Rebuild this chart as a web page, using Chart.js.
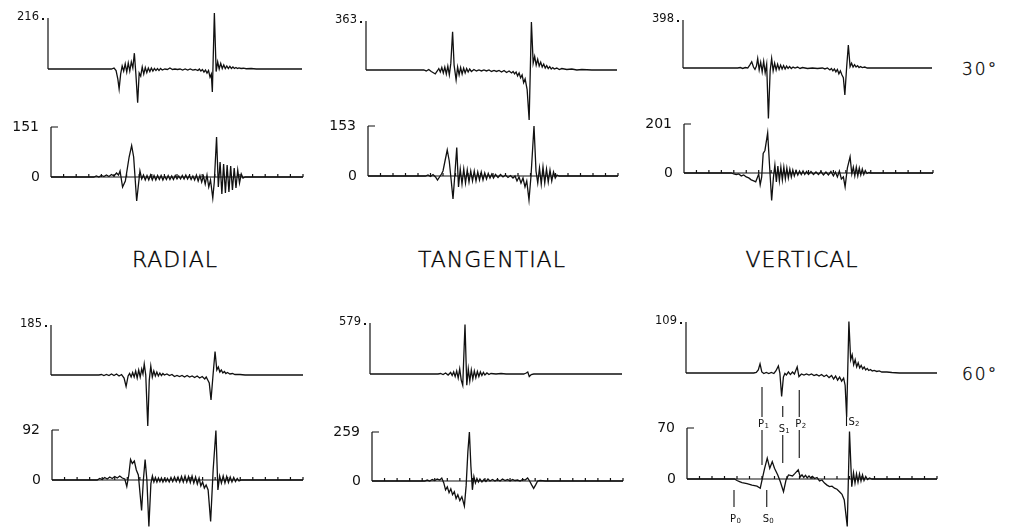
<!DOCTYPE html>
<html>
<head>
<meta charset="utf-8">
<script src="https://cdn.jsdelivr.net/npm/chart.js@4.4.1/dist/chart.umd.min.js"></script>
<style>
  body { margin: 0; background: #fff; width: 1009px; height: 530px; overflow: hidden; position: relative; font-family: "DejaVu Sans", sans-serif; color: #000; }
  canvas { position: absolute; }
  .title { position: absolute; font-size: 22px; line-height: 22px; font-weight: 200; letter-spacing: 1px; transform: translateX(-50%); white-space: nowrap; -webkit-text-stroke: 0.4px #000; }
  .angle { position: absolute; font-size: 17px; line-height: 17px; font-weight: 200; letter-spacing: 2px; -webkit-text-stroke: 0.3px #000; }
</style>
</head>
<body>
<div class="title" style="left:175px; top:249px">RADIAL</div>
<div class="title" style="left:492px; top:249px">TANGENTIAL</div>
<div class="title" style="left:802px; top:249px">VERTICAL</div>
<div class="angle" style="left:962px; top:61px">30°</div>
<div class="angle" style="left:962px; top:366px">60°</div>
<script>
// time axis runs 0..100, amplitudes are % of the peak value printed on each trace
const tickTimes = [5, 10, 15, 20, 25, 30, 35, 40, 45, 50, 55, 60, 65, 70, 75, 80, 85, 90, 95, 100];
const topLabels = ['216', '363', '398', '185', '579', '109'];
const bottomLabels = ['151', '153', '201', '92', '259', '70'];

// phase picks on the 60 deg vertical record
const phaseNames = ['P', 'S', 'P', 'S', 'P', 'S'];
const phaseSubs = ['1', '1', '2', '2', '0', '0'];
const phaseTimes = [30, 38.3, 44.9, 63.8, 18.8, 31.9];

// 30 deg, displacement-like traces (top) and velocity-like traces (bottom)
const radial30Top = [[0,0],[25,0],[26,2],[26.8,-3],[27.5,-20],[28,-39],[28.6,-10],[29.2,6],[29.8,-4],[30.4,10],[31,-6],[31.6,12],[32.2,-4],[32.8,14],[33.4,2],[34,31],[34.6,-10],[35.3,-66],[35.9,-8],[36.5,-14],[37.1,4],[37.7,-10],[38.3,3],[38.9,-7],[39.5,2],[40.1,-5],[40.7,2],[41.3,-4],[41.9,1],[42.5,-3],[43.1,1],[43.7,-3],[44.3,1],[45,-2],[46,0],[47,-1],[48,2],[49,-1],[50,0],[51,-1],[52,0],[53,-2],[54,0],[55,-2],[56,0],[57,-2],[58,-1],[59,-3],[59.6,0],[60.2,-4],[60.8,-1],[61.4,-6],[62,-2],[62.6,-8],[63.2,-3],[63.8,-16],[64.3,-10],[64.7,-45],[65.5,110],[66.2,-5],[66.8,14],[67.4,0],[68,11],[68.6,1],[69.2,8],[69.8,1],[70.4,6],[71,1],[71.6,5],[72.2,1],[72.8,4],[73.4,1],[74,3],[74.6,1],[75.2,2],[76,1],[77,1.5],[78,0.5],[80,1],[82,0],[100,0]];
const radial30Bottom = [[0,0],[17,0],[18,2],[19,0],[20,3],[21,1],[22,4],[23,1],[24,5],[25,2],[26,8],[26.8,4],[27.4,12],[28.4,-20],[29.5,-8],[31,40],[32,63],[32.8,40],[34,-48],[34.6,-20],[35.3,12],[36,-4],[36.7,4],[37.4,-6],[38.1,3],[38.8,-6],[39.5,4],[40.2,-6],[40.9,3],[41.6,-6],[42.3,3],[43,-5],[43.7,3],[44.4,-6],[45.1,2],[45.8,-5],[46.5,3],[47.2,-5],[47.9,2],[48.6,-5],[49.3,3],[50,-4],[50.7,2],[51.4,-4],[52.1,3],[52.8,-4],[53.5,4],[54.2,-4],[54.9,3],[55.6,-5],[56.3,2],[57,-6],[57.7,4],[58.4,-8],[59.1,3],[59.8,-10],[60.5,2],[61.2,-14],[61.9,4],[62.6,-20],[63.3,-6],[64.2,-42],[64.8,-10],[65.7,80],[66.4,-20],[67.1,30],[67.8,-34],[68.5,26],[69.2,-32],[69.9,24],[70.6,-30],[71.3,22],[72,-26],[72.7,18],[73.4,-22],[74.1,14],[74.8,-12],[75.5,6],[76.2,-2],[77,0],[100,0]];
const tangential30Top = [[0,0],[23,0],[24,-2],[25,1],[26,-3],[27,-6],[27.6,-8],[28.4,-2],[29,3],[29.6,-4],[30.2,5],[30.8,-6],[31.4,6],[32,-8],[32.6,8],[33.2,-10],[33.8,14],[34.5,78],[35.1,10],[35.9,-20],[36.5,6],[37.1,-10],[37.7,5],[38.3,-8],[38.9,4],[39.5,-6],[40.1,3],[40.7,-4],[41.3,2],[42,-3],[43,1],[44,-2],[45,0],[46,-2],[47,0],[48,-2],[49,0],[50,-3],[51,-1],[52,-3],[53,-1],[54,-4],[55,-1],[56,-5],[57,-2],[58,-6],[58.6,-3],[59.2,-8],[59.8,-4],[60.4,-12],[61,-6],[61.6,-16],[62.2,-10],[62.8,-26],[63.4,-18],[64.2,-40],[65,-102],[65.9,98],[66.6,14],[67.2,28],[67.8,10],[68.4,22],[69,8],[69.6,16],[70.2,6],[70.8,12],[71.4,4],[72,9],[72.6,3],[73.2,7],[73.8,2],[74.4,5],[75,2],[76,4],[77,1],[78,3],[80,1],[82,2],[84,0],[86,1],[90,0],[100,0]];
const tangential30Bottom = [[0,0],[23,0],[24,2],[25,-1],[26,3],[27,-2],[27.8,-8],[28.6,-2],[29.4,4],[30,10],[30.8,30],[31.7,52],[32.5,30],[33.3,-10],[34,-46],[34.7,0],[35.5,57],[36.2,-22],[36.9,14],[37.6,-16],[38.3,14],[39,-14],[39.7,12],[40.4,-12],[41.1,10],[41.8,-10],[42.5,10],[43.2,-10],[43.9,8],[44.6,-8],[45.3,8],[46,-8],[46.7,6],[47.4,-6],[48.1,5],[48.8,-4],[49.5,4],[50.2,-4],[51,3],[52,-3],[53,3],[54,-2],[55,2],[56,-3],[57,1],[58,-4],[58.8,0],[59.6,-10],[60.4,-2],[61.2,-14],[62,-4],[62.8,-22],[63.5,-10],[64.4,-48],[65.2,0],[66.4,100],[67.2,10],[67.9,-14],[68.6,16],[69.3,-16],[70,18],[70.7,-14],[71.4,14],[72.1,-12],[72.8,12],[73.5,-10],[74.2,8],[74.9,-4],[75.6,2],[76.5,0],[100,0]];
const vertical30Top = [[0,0],[22,0],[23,1],[24,-1],[25,1],[26,0],[26.8,6],[27.6,13],[28.3,2],[28.9,-3],[29.5,4],[30,20],[30.6,-4],[31.2,12],[31.8,-8],[32.4,14],[33,-10],[33.6,8],[34.3,-105],[35,-6],[35.6,20],[36.2,-6],[36.8,10],[37.4,-4],[38,8],[38.6,-3],[39.2,6],[39.8,-2],[40.4,5],[41,-2],[41.6,4],[42.2,-1],[42.8,3],[43.5,-1],[44.2,2],[45,0],[46,2],[47,-1],[48,1],[50,-1],[52,0],[54,-1],[56,0],[57,-2],[58,0],[59,-4],[59.6,-1],[60.2,-6],[60.8,-2],[61.4,-8],[62,-3],[62.6,-12],[63.2,-6],[63.8,-14],[64.4,-20],[65,-56],[65.7,0],[66.4,48],[67.1,3],[67.7,10],[68.3,2],[68.9,7],[69.5,2],[70.1,5],[70.7,1],[71.3,3],[72,1],[73,2],[74,0],[100,0]];
const vertical30Bottom = [[0,0],[19,0],[20,-2],[21,-3],[22,-2],[23,-6],[24,-4],[25,-8],[26,-10],[27,-14],[28,-16],[28.8,-18],[29.4,-10],[30,-2],[30.6,-24],[31.2,-8],[31.8,40],[32.5,46],[33.6,82],[34.3,20],[35.2,-56],[35.9,-10],[36.5,16],[37.1,-18],[37.7,14],[38.3,-16],[38.9,12],[39.5,-14],[40.1,12],[40.7,-12],[41.3,10],[41.9,-10],[42.5,8],[43.1,-8],[43.7,6],[44.3,-6],[45,5],[45.7,-4],[46.4,4],[47.1,-3],[47.8,4],[48.5,-3],[49.2,3],[50,-3],[51,3],[52,-3],[53,2],[54,-3],[55,3],[56,-4],[57,2],[58,-4],[59,3],[60,-6],[60.8,2],[61.6,-8],[62.4,4],[63.2,-12],[64,-8],[64.7,-28],[65.6,10],[66.7,33],[67.4,-2],[68,12],[68.6,-6],[69.2,12],[69.8,-6],[70.4,10],[71,-4],[71.6,8],[72.2,-3],[72.8,5],[73.5,-1],[74.3,1],[75,0],[100,0]];

// 60 deg
const radial60Top = [[0,0],[19,0],[20,1],[21,-1],[22,1],[23,-1],[24,2],[25,-1],[26,2],[27,-2],[28,1],[29,-6],[29.8,-23],[30.6,-2],[31.2,3],[31.8,-4],[32.4,5],[33,-4],[33.6,8],[34.2,-6],[34.8,10],[35.4,-4],[36,12],[36.5,2],[37,22],[37.6,0],[38.4,-102],[39,-10],[39.6,18],[40.2,-4],[40.8,8],[41.4,-2],[42,6],[42.6,-2],[43.2,4],[43.8,-1],[44.4,3],[45,0],[46,2],[47,-1],[48,1],[49,-3],[50,-1],[51,-3],[52,-1],[53,-4],[54,-1],[55,-4],[56,-2],[57,-5],[58,-2],[59,-6],[60,-3],[61,-8],[61.6,-4],[62.2,-10],[62.8,-16],[63.5,-50],[64.3,0],[65.1,47],[65.8,10],[66.4,16],[67,6],[67.6,10],[68.2,4],[68.8,7],[69.4,3],[70,5],[71,2],[72,3],[73,1],[75,1],[77,0],[100,0]];
const radial60Bottom = [[0,0],[18,0],[19,3],[20,1],[21,5],[22,2],[23,6],[24,3],[25,7],[26,4],[27,8],[28,4],[29,2],[29.8,-13],[30.6,10],[31.3,41],[32,33],[32.8,38],[33.6,20],[34.4,10],[35.7,-61],[36.4,0],[37.1,41],[37.8,0],[38.6,-93],[39.4,-7],[40,8],[40.6,-4],[41.2,5],[41.8,-4],[42.4,4],[43,-3],[43.6,4],[44.2,-4],[44.8,3],[45.4,-3],[46,3],[46.7,-4],[47.4,5],[48.1,-3],[48.8,6],[49.5,-3],[50.2,6],[50.9,-4],[51.6,7],[52.3,-4],[53,8],[53.7,-4],[54.4,7],[55.1,-5],[55.8,8],[56.5,-6],[57.2,6],[57.9,-8],[58.6,4],[59.3,-12],[60,-4],[60.7,-16],[61.4,-10],[62.2,-20],[63.2,-83],[64.2,20],[65.3,99],[66.1,-20],[66.8,8],[67.5,-6],[68.2,8],[68.9,-6],[69.6,7],[70.3,-5],[71,6],[71.7,-4],[72.4,5],[73.1,-3],[73.8,3],[74.5,-2],[75.5,0],[100,0]];
const tangential60Top = [[0,0],[27,0],[28,1],[29,-1],[30,2],[31,-2],[32,3],[32.6,-3],[33.2,4],[33.8,-5],[34.4,6],[35,-8],[35.6,10],[36.2,-12],[36.8,-22],[37.7,97],[38.4,-22],[39,10],[39.6,-14],[40.2,8],[40.8,-10],[41.4,6],[42,-7],[42.6,5],[43.2,-5],[43.8,4],[44.4,-3],[45,3],[45.6,-2],[46.4,2],[47.2,-1],[48,1],[50,0],[52,1],[54,0],[61,0],[62,2],[62.6,4],[63.2,-5],[64,-1],[65,0],[100,0]];
const tangential60Bottom = [[0,0],[21,0],[22,2],[23,0],[24,3],[25,1],[26,4],[27,2],[27.8,6],[28.6,-4],[29.3,-18],[30,-12],[30.7,-24],[31.4,-16],[32.1,-28],[32.8,-22],[33.5,-36],[34.2,-28],[35,-40],[35.8,-32],[36.8,-51],[37.5,-10],[38.2,60],[38.8,100],[39.4,30],[40,-18],[40.6,9],[41.2,-4],[41.8,5],[42.4,-2],[43,4],[43.8,-2],[44.6,3],[45.4,-1],[46.2,4],[47,0],[48,3],[49,0],[50,3],[51,0],[52,4],[53,1],[54,3],[55,0],[56,3],[57,1],[58,2],[59,0],[60,3],[61,2],[62,6],[62.8,0],[63.6,-8],[64.4,-15],[65.2,-8],[66,0],[67,1],[69,0],[100,0]];
const vertical60Top = [[0,0],[27,0],[28,1],[28.8,6],[29.5,18],[30.2,2],[31,-1],[32,1],[33,-1],[34,1],[35,-1],[35.8,4],[36.8,14],[37.4,0],[38.1,-46],[38.8,-8],[39.4,-1],[40,-4],[40.8,2],[41.6,-3],[42.4,2],[43.2,-2],[44.3,12],[45,-7],[46,-2],[47,-4],[48,-2],[49,-4],[50,-2],[51,-5],[52,-3],[53,-6],[54,-3],[55,-7],[56,-4],[57,-9],[58,-5],[58.8,-12],[59.6,-6],[60.4,-14],[61.2,-8],[62,-16],[62.8,-10],[63.4,-24],[64,-86],[64.9,101],[65.6,26],[66.2,36],[66.8,16],[67.4,26],[68,12],[68.6,20],[69.2,10],[69.8,15],[70.4,8],[71,12],[71.6,6],[72.2,9],[72.8,5],[73.5,7],[74.2,4],[75,5],[76,3],[77,4],[78,2],[80,2],[82,1],[85,0],[100,0]];
const vertical60Bottom = [[0,0],[19,0],[20,-3],[21,-5],[22,-7],[24,-9],[26,-12],[28,-14],[29.3,-18],[30,-2],[31,20],[32.1,41],[33.1,21],[34.1,34],[35,21],[36.3,8],[37.3,-5],[38.6,-25],[39.6,-2],[40.6,8],[42.2,6],[43.2,11],[44.5,18],[45.3,4],[46,8],[46.7,3],[47.4,7],[48.1,2],[48.8,6],[49.5,2],[50.2,5],[51,1],[52,3],[53,-4],[54,-2],[55,-8],[56,-12],[57,-15],[58,-14],[59,-18],[60,-20],[61,-25],[62,-30],[62.9,-41],[64.1,-93],[65,93],[65.9,-15],[66.6,12],[67.2,-8],[67.8,10],[68.4,-6],[69,10],[69.6,-4],[70.2,8],[70.8,-3],[71.5,5],[72.2,-1],[73,2],[74,0],[100,0]];

// page placement of each trace: axis x, end x, baseline y, axis-top y (pixels)
const ABOVE = 100, BELOW = 80, PAD_L = 55, PAD_R = 6;
const panels = [
  { data: radial30Top, kind: 'top', label: topLabels[0], left: 48, right: 302, base: 69, top: 18 },
  { data: radial30Bottom, kind: 'bottom', label: bottomLabels[0], left: 51, right: 303, base: 177, top: 127 },
  { data: tangential30Top, kind: 'top', label: topLabels[1], left: 366, right: 617, base: 70, top: 21 },
  { data: tangential30Bottom, kind: 'bottom', label: bottomLabels[1], left: 368, right: 618, base: 176, top: 126 },
  { data: vertical30Top, kind: 'top', label: topLabels[2], left: 683, right: 932, base: 68, top: 20 },
  { data: vertical30Bottom, kind: 'bottom', label: bottomLabels[2], left: 684, right: 933, base: 173, top: 124 },
  { data: radial60Top, kind: 'top', label: topLabels[3], left: 51, right: 303, base: 375, top: 325 },
  { data: radial60Bottom, kind: 'bottom', label: bottomLabels[3], left: 52, right: 303, base: 480, top: 430 },
  { data: tangential60Top, kind: 'top', label: topLabels[4], left: 370, right: 622, base: 374, top: 323 },
  { data: tangential60Bottom, kind: 'bottom', label: bottomLabels[4], left: 372, right: 623, base: 481, top: 432 },
  { data: vertical60Top, kind: 'top', label: topLabels[5], left: 686, right: 937, base: 373, top: 322 },
  { data: vertical60Bottom, kind: 'bottom', label: bottomLabels[5], left: 687, right: 937, base: 479, top: 428, phases: true }
];

// pixel offsets from the baseline for the pick marks: [upperFrom, upperTo, labelY, lowerFrom, lowerTo]
const phaseMarks = [
  [-92, -62, -55, -49, -14],
  [-73, -62, -50, -44, -16],
  [-89, -62, -55, -49, -21],
  [-62, -53, -57, null, null],
  [11, 28, 40, null, null],
  [11, 28, 40, null, null]
];

const traceAxes = {
  id: 'traceAxes',
  afterDatasetsDraw(chart, args, opts) {
    const { ctx } = chart;
    const x = chart.scales.x, y = chart.scales.y;
    const x0 = x.getPixelForValue(0);
    const y0 = y.getPixelForValue(0);
    const yTop = y.getPixelForValue(100);
    ctx.save();
    ctx.strokeStyle = '#111';
    ctx.fillStyle = '#111';
    ctx.lineWidth = 1.2;
    ctx.beginPath();
    ctx.moveTo(x0, y0);
    ctx.lineTo(x0, yTop);
    if (opts.kind === 'bottom') {
      ctx.moveTo(x0, yTop);
      ctx.lineTo(x0 + 7, yTop);
      ctx.moveTo(x0, y0);
      ctx.lineTo(x.getPixelForValue(100), y0);
      tickTimes.forEach(t => {
        const px = x.getPixelForValue(t);
        ctx.moveTo(px, y0);
        ctx.lineTo(px, y0 - 3);
      });
    }
    ctx.stroke();

    ctx.textBaseline = 'middle';
    ctx.textAlign = 'right';
    if (opts.kind === 'top') {
      ctx.font = '11.5px "DejaVu Sans"';
      ctx.fillText(opts.label, x0 - 9, yTop - 1);
      ctx.fillRect(x0 - 6, yTop, 2, 2);
    } else {
      ctx.font = '14px "DejaVu Sans"';
      ctx.fillText(opts.label, x0 - 12, yTop);
      ctx.fillText('0', x0 - 11, y0);
    }

    if (opts.phases) {
      ctx.lineWidth = 1.1;
      phaseTimes.forEach((t, i) => {
        const px = x.getPixelForValue(t);
        const m = phaseMarks[i];
        ctx.beginPath();
        ctx.moveTo(px, y0 + m[0]);
        ctx.lineTo(px, y0 + m[1]);
        if (m[3] !== null) {
          ctx.moveTo(px, y0 + m[3]);
          ctx.lineTo(px, y0 + m[4]);
        }
        ctx.stroke();
        const lx = i === 3 ? px + 2 : px - 4;
        ctx.textAlign = 'left';
        ctx.font = '10px "DejaVu Sans"';
        ctx.fillText(phaseNames[i], lx, y0 + m[2]);
        ctx.font = '7px "DejaVu Sans"';
        ctx.fillText(phaseSubs[i], lx + 6.5, y0 + m[2] + 2);
      });
    }
    ctx.restore();
  }
};

panels.forEach(p => {
  const canvas = document.createElement('canvas');
  const w = (p.right - p.left) + PAD_L + PAD_R;
  const h = ABOVE + BELOW;
  canvas.width = w;
  canvas.height = h;
  canvas.style.width = w + 'px';
  canvas.style.height = h + 'px';
  canvas.style.left = (p.left - PAD_L) + 'px';
  canvas.style.top = (p.base - ABOVE) + 'px';
  document.body.appendChild(canvas);

  const unit = 100 / (p.base - p.top);
  new Chart(canvas, {
    type: 'line',
    data: {
      datasets: [{
        data: p.data.map(([t, v]) => ({ x: t, y: v })),
        borderColor: '#111',
        borderWidth: 1.3,
        pointRadius: 0,
        fill: false,
        tension: 0
      }]
    },
    options: {
      responsive: false,
      animation: false,
      layout: { padding: { left: PAD_L, right: PAD_R, top: 0, bottom: 0 } },
      plugins: {
        legend: { display: false },
        tooltip: { enabled: false },
        traceAxes: { kind: p.kind, label: p.label, phases: !!p.phases }
      },
      scales: {
        x: { type: 'linear', min: 0, max: 100, display: false },
        y: { min: -BELOW * unit, max: ABOVE * unit, display: false }
      }
    },
    plugins: [traceAxes]
  });
});
</script>
</body>
</html>
